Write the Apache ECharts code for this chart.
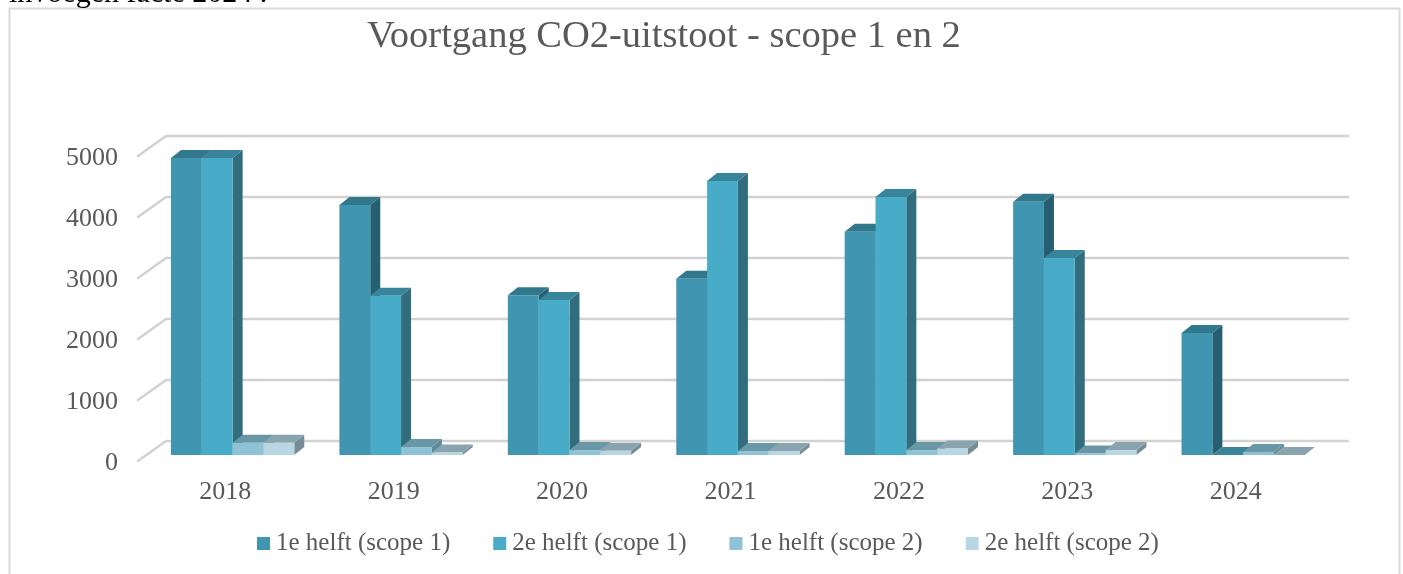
<!DOCTYPE html>
<html>
<head>
<meta charset="utf-8">
<title>Voortgang CO2-uitstoot</title>
<style>
html, body { margin: 0; padding: 0; background: #fff; overflow: hidden; }
#chart { width: 1403px; height: 574px; }
</style>
<script src="https://cdn.jsdelivr.net/npm/echarts@6/dist/echarts.min.js"></script>
</head>
<body>
<div id="chart"></div>
<script>
var categories = ['2018', '2019', '2020', '2021', '2022', '2023', '2024'];
var seriesNames = ['1e helft (scope 1)', '2e helft (scope 1)', '1e helft (scope 2)', '2e helft (scope 2)'];
var helft1Scope1 = [4870, 4100, 2620, 2890, 3660, 4150, 2000];
var helft2Scope1 = [4870, 2610, 2540, 4490, 4230, 3230, 0];
var helft1Scope2 = [200, 130, 80, 65, 80, 25, 50];
var helft2Scope2 = [200, 40, 70, 65, 105, 80, 0];
var gridTicks = [0, 1000, 2000, 3000, 4000, 5000];

// kleuren per reeks: voorkant, bovenkant, zijkant
var frontColors = ['#4095B0', '#48ACC8', '#8EC3D6', '#B9D6E3'];
var topColors = ['#32788D', '#38849A', '#6A97A6', '#8AA4AF'];
var sideColors = ['#265F70', '#316D7D', '#5F8A98', '#768D97'];

var FONT = '"Liberation Serif", serif';
var TEXT = '#595959';
var DX = 10, DY = 8;   // diepte van de balken

var myChart = echarts.init(document.getElementById('chart'));

function renderGridLine(params, api) {
    var band = api.size([1, 0])[0];
    var p = api.coord([0, api.value(1)]);
    var left = p[0] - band / 2;
    var right = left + band * categories.length;
    return {
        type: 'polyline',
        shape: { points: [[left - 3, p[1] + 6], [left + 25, p[1] - 14], [right + 28, p[1] - 14]] },
        style: { fill: null, stroke: '#D2D2D2', lineWidth: 2.5, lineCap: 'round', lineJoin: 'round' }
    };
}

function barRenderer(k) {
    return function (params, api) {
        var band = api.size([1, 0])[0];
        var w = band * 0.183;
        var base = api.coord([api.value(0), 0]);
        var top = api.coord([api.value(0), api.value(1)]);
        var x = base[0] - band * 0.322 + k * w;
        var y0 = base[1], y1 = top[1];
        return {
            type: 'group',
            children: [
                { type: 'polygon', shape: { points: [[x + w, y0], [x + w + DX, y0 - DY], [x + w + DX, y1 - DY], [x + w, y1]] }, style: { fill: sideColors[k] } },
                { type: 'polygon', shape: { points: [[x, y1], [x + DX, y1 - DY], [x + w + DX, y1 - DY], [x + w, y1]] }, style: { fill: topColors[k] } },
                { type: 'rect', shape: { x: x, y: y1, width: w, height: y0 - y1 }, style: { fill: frontColors[k] } }
            ]
        };
    };
}

var allValues = [helft1Scope1, helft2Scope1, helft1Scope2, helft2Scope2];

var series = [{
    type: 'custom',
    name: 'grid',
    silent: true,
    renderItem: renderGridLine,
    data: gridTicks.map(function (t) { return [0, t]; }),
    z: 1
}];
allValues.forEach(function (values, k) {
    series.push({
        type: 'custom',
        name: seriesNames[k],
        renderItem: barRenderer(k),
        itemStyle: { color: frontColors[k] },
        data: values.map(function (v, i) { return [i, v]; }),
        z: 2 + k
    });
});

var option = {
    animation: false,
    backgroundColor: '#fff',
    title: {
        text: 'Voortgang CO2-uitstoot - scope 1 en 2',
        left: 362,
        top: 12,
        textStyle: { fontFamily: FONT, fontSize: 38.5, fontWeight: 'normal', color: TEXT }
    },
    legend: {
        data: seriesNames,
        left: 257,
        top: 531,
        padding: 0,
        icon: 'rect',
        itemWidth: 13,
        itemHeight: 13,
        itemGap: 43,
        textStyle: { fontFamily: FONT, fontSize: 25, color: TEXT, padding: [0, 0, 0, 1] }
    },
    grid: { left: 141, right: 83, top: 150, bottom: 119 },
    xAxis: {
        type: 'category',
        data: categories,
        axisLine: { show: false },
        axisTick: { show: false },
        axisLabel: { margin: 24, fontFamily: FONT, fontSize: 26, color: TEXT }
    },
    yAxis: {
        type: 'value',
        min: 0,
        max: 5000,
        interval: 1000,
        axisLine: { show: false },
        axisTick: { show: false },
        splitLine: { show: false },
        axisLabel: {
            margin: 23, fontFamily: FONT, fontSize: 26, color: TEXT,
            verticalAlign: 'top',
            lineHeight: 16,
            formatter: function (v) { return String(v); }
        }
    },
    graphic: [
        { type: 'rect', z: 0, shape: { x: 9.5, y: 8.5, width: 1390, height: 620 }, style: { fill: null, stroke: '#DADADA', lineWidth: 2 } },
        { type: 'text', z: 0, x: 9, y: -21, style: { text: 'invoegen facte 2024 .', fontFamily: FONT, fontSize: 30, fill: '#000' } }
    ],
    series: series
};
myChart.setOption(option);
</script>
</body>
</html>
